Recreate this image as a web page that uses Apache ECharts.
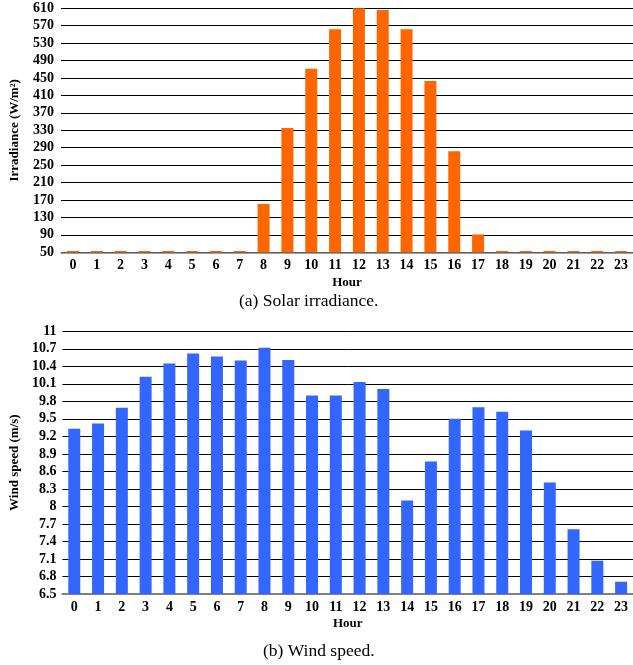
<!DOCTYPE html>
<html>
<head>
    <meta charset="utf-8">
    <title>Solar irradiance and wind speed</title>
    <script src="https://cdn.jsdelivr.net/npm/echarts@6/dist/echarts.min.js"></script>
    <style>
        html, body { margin: 0; padding: 0; background: #fff; }
        #main { width: 633px; height: 665px; }
    </style>
</head>
<body>
    <div id="main"></div>
    <script type="text/javascript">
        // hours 0..23
        var hours = [];
        for (var h = 0; h < 24; h++) hours.push(String(h));

        // solar irradiance (W/m2), night hours sit on the 50 floor
        var irradiance = [53, 53, 53, 53, 53, 53, 53, 53, 161, 335, 471, 562,
                          610, 606, 562, 443, 282, 91, 53, 53, 53, 53, 53, 53];

        // wind speed (m/s)
        var windSpeed = [9.33, 9.42, 9.69, 10.22, 10.45, 10.62, 10.57, 10.50, 10.72, 10.51, 9.90, 9.90,
                         10.13, 10.01, 8.10, 8.77, 9.50, 9.70, 9.62, 9.30, 8.41, 7.61, 7.07, 6.71];

        var serif = '"Liberation Serif", "Times New Roman", serif';
        var tickFont = { fontFamily: serif, fontWeight: 'bold', fontSize: 14, color: '#000' };
        var nameFont = { fontFamily: serif, fontWeight: 'bold', fontSize: 13, color: '#000' };
        var capFont = { fontFamily: serif, fontWeight: 'normal', fontSize: 17.5, color: '#000' };

        var chart = echarts.init(document.getElementById('main'));
        chart.setOption({
            animation: false,
            backgroundColor: '#fff',
            title: [
                { text: '(a) Solar irradiance.', left: 234, top: 287, textStyle: capFont },
                { text: '(b) Wind speed.', left: 258, top: 637, textStyle: capFont }
            ],
            grid: [
                { left: 59, right: -2, top: 8.3, height: 244 },
                { left: 56, right: -7, top: 331.3, height: 262.7 }
            ],
            xAxis: [
                { type: 'category', gridIndex: 0, data: hours,
                  name: 'Hour', nameLocation: 'middle', nameGap: 24, nameTextStyle: nameFont,
                  axisTick: { show: false },
                  axisLine: { lineStyle: { color: '#808080', width: 1.5 } },
                  axisLabel: Object.assign({ margin: 6, interval: 0 }, tickFont) },
                { type: 'category', gridIndex: 1, data: hours,
                  name: 'Hour', nameLocation: 'middle', nameGap: 23, nameTextStyle: nameFont,
                  axisTick: { show: false },
                  axisLine: { lineStyle: { color: '#808080', width: 2 } },
                  axisLabel: Object.assign({ margin: 6, interval: 0 }, tickFont) }
            ],
            yAxis: [
                { type: 'value', gridIndex: 0, min: 50, max: 610, interval: 40,
                  name: 'Irradiance (W/m²)', nameLocation: 'middle', nameGap: 40, nameTextStyle: nameFont,
                  axisLine: { show: false }, axisTick: { show: false },
                  splitLine: { lineStyle: { color: '#000', width: 1 } },
                  axisLabel: Object.assign({ margin: 7 }, tickFont) },
                { type: 'value', gridIndex: 1, min: 6.5, max: 11, interval: 0.3,
                  name: 'Wind speed (m/s)', nameLocation: 'middle', nameGap: 37, nameTextStyle: nameFont,
                  axisLine: { show: false }, axisTick: { show: false },
                  splitLine: { lineStyle: { color: '#000', width: 1 } },
                  axisLabel: Object.assign({ margin: 6, formatter: function (v) {
                      return String(parseFloat(v.toFixed(1)));
                  } }, tickFont) }
            ],
            series: [
                { type: 'bar', xAxisIndex: 0, yAxisIndex: 0, data: irradiance,
                  barWidth: 12,
                  itemStyle: { color: '#FF6600' } },
                { type: 'bar', xAxisIndex: 1, yAxisIndex: 1, data: windSpeed,
                  barWidth: 12,
                  itemStyle: { color: '#3366FF' } }
            ]
        });
    </script>
</body>
</html>
